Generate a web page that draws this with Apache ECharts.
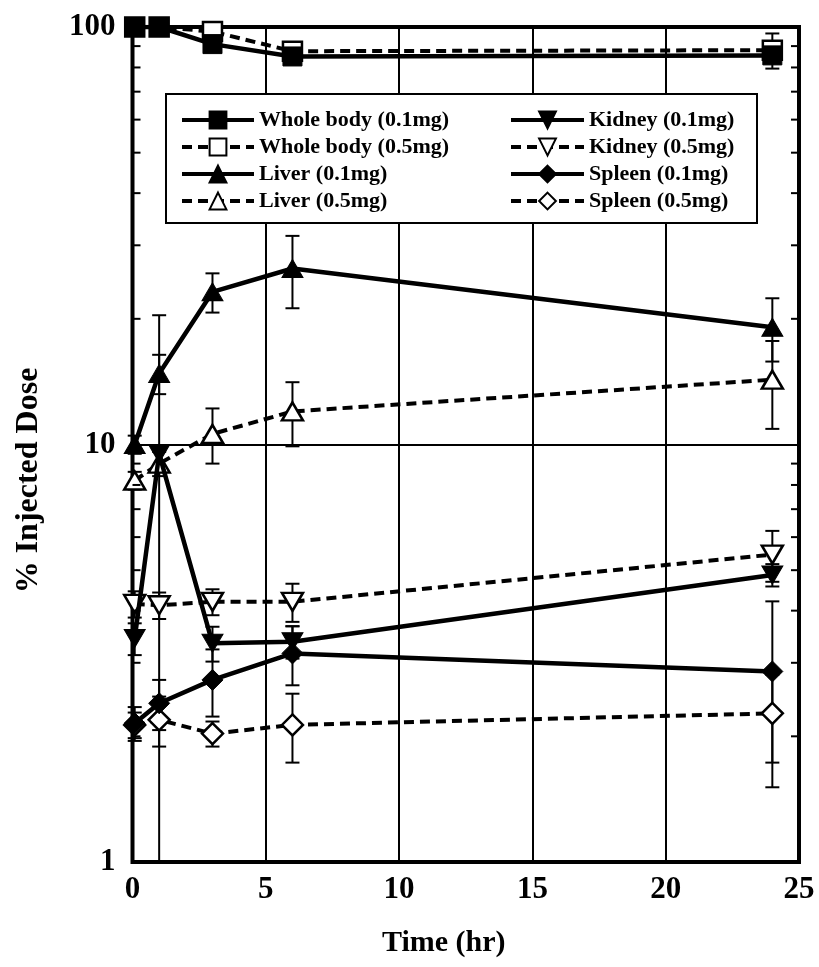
<!DOCTYPE html>
<html>
<head>
<meta charset="utf-8">
<script src="https://cdn.jsdelivr.net/npm/echarts@6/dist/echarts.min.js"></script>
<style>
  html, body { margin: 0; padding: 0; background: #fff; }
  #chart { width: 819px; height: 967px; }
</style>
</head>
<body>
<div id="chart"></div>
<script>
// Sampling times (hr)
const time = [0.083, 1, 3, 6, 24];

// % injected dose, mean values
const wholeBody01 = [100, 100, 91, 85, 85.5];
const wholeBody05 = [100, 100, 97.5, 87.5, 88];
const liver01 = [10, 14.8, 23.2, 26.4, 19.1];
const liver05 = [8.2, 9.0, 10.6, 12.0, 14.3];
const kidney01 = [3.43, 9.5, 3.34, 3.37, 4.87];
const kidney05 = [4.15, 4.12, 4.2, 4.2, 5.45];
const spleen01 = [2.15, 2.4, 2.73, 3.16, 2.86];
const spleen05 = [2.13, 2.19, 2.03, 2.13, 2.27];

// standard deviations
const wholeBody01Sd = [0, 0, 0, 0, 0];
const wholeBody05Sd = [0, 0, 0, 0, 8.5];
const liver01Sd = [0.5, 1.6, 2.5, 5.2, 3.3];
const liver05Sd = [0.4, 0.6, 1.6, 2.1, 3.4];
const kidney01Sd = [0.3, 10.9, 0.32, 0.3, 0.3];
const kidney05Sd = [0.3, 0.3, 0.3, 0.44, 0.76];
const spleen01Sd = [0.2, 0.33, 0.5, 0.51, 1.35];
const spleen05Sd = [0.15, 0.3, 0.14, 0.4, 0.54];

// axis ticks
const xTicks = [0, 5, 10, 15, 20, 25];
const yMajor = [1, 10, 100];
const yMinor = [2, 3, 4, 5, 6, 7, 8, 9, 20, 30, 40, 50, 60, 70, 80, 90];

const legendLeft = ['Whole body (0.1mg)', 'Whole body (0.5mg)', 'Liver (0.1mg)', 'Liver (0.5mg)'];
const legendRight = ['Kidney (0.1mg)', 'Kidney (0.5mg)', 'Spleen (0.1mg)', 'Spleen (0.5mg)'];

const FONT = '"Liberation Serif", "Times New Roman", serif';

const groups = [
  { name: 'Whole body (0.1mg)', mean: wholeBody01, sd: wholeBody01Sd, symbol: 'rect', fill: '#000', dashed: false, size: 19, rotate: 0 },
  { name: 'Whole body (0.5mg)', mean: wholeBody05, sd: wholeBody05Sd, symbol: 'rect', fill: '#fff', dashed: true, size: 19, rotate: 0 },
  { name: 'Liver (0.1mg)', mean: liver01, sd: liver01Sd, symbol: 'triangle', fill: '#000', dashed: false, size: [21, 18], rotate: 0 },
  { name: 'Liver (0.5mg)', mean: liver05, sd: liver05Sd, symbol: 'triangle', fill: '#fff', dashed: true, size: [21, 18], rotate: 0 },
  { name: 'Kidney (0.1mg)', mean: kidney01, sd: kidney01Sd, symbol: 'triangle', fill: '#000', dashed: false, size: [21, 18], rotate: 180 },
  { name: 'Kidney (0.5mg)', mean: kidney05, sd: kidney05Sd, symbol: 'triangle', fill: '#fff', dashed: true, size: [21, 18], rotate: 180 },
  { name: 'Spleen (0.1mg)', mean: spleen01, sd: spleen01Sd, symbol: 'diamond', fill: '#000', dashed: false, size: 21, rotate: 0 },
  { name: 'Spleen (0.5mg)', mean: spleen05, sd: spleen05Sd, symbol: 'diamond', fill: '#fff', dashed: true, size: 21, rotate: 0 }
];

// vertical error bar with caps; a lower bound at or below the axis minimum runs to the axis floor
function errorBarItem(params, api) {
  const t = api.value(0), m = api.value(1), sd = api.value(2);
  if (!(sd > 0)) return null;
  const cs = params.coordSys;
  const floor = cs.y + cs.height;
  const hi = api.coord([t, m + sd]);
  const hasLow = (m - sd) > 1;
  const lo = hasLow ? api.coord([t, m - sd]) : [hi[0], floor];
  const cap = 7;
  const st = { stroke: '#000', lineWidth: 2 };
  const children = [
    { type: 'line', shape: { x1: hi[0], y1: hi[1], x2: lo[0], y2: lo[1] }, style: st },
    { type: 'line', shape: { x1: hi[0] - cap, y1: hi[1], x2: hi[0] + cap, y2: hi[1] }, style: st }
  ];
  if (hasLow) {
    children.push({ type: 'line', shape: { x1: lo[0] - cap, y1: lo[1], x2: lo[0] + cap, y2: lo[1] }, style: st });
  }
  return { type: 'group', children: children };
}

// inward minor ticks on the left and right frame edges
function minorTickItem(params, api) {
  const cs = params.coordSys;
  const p = api.coord([0, api.value(1)]);
  const len = 8;
  const st = { stroke: '#000', lineWidth: 2 };
  return {
    type: 'group',
    children: [
      { type: 'line', shape: { x1: cs.x, y1: p[1], x2: cs.x + len, y2: p[1] }, style: st },
      { type: 'line', shape: { x1: cs.x + cs.width, y1: p[1], x2: cs.x + cs.width - len, y2: p[1] }, style: st }
    ]
  };
}

const series = [];

series.push({
  type: 'custom',
  name: 'minorTicks',
  silent: true,
  z: 3,
  renderItem: minorTickItem,
  encode: { x: 0, y: 1 },
  data: yMinor.map(v => [0, v])
});

groups.forEach(g => {
  series.push({
    type: 'custom',
    name: g.name + ' SD',
    silent: true,
    z: 1,
    renderItem: errorBarItem,
    encode: { x: 0, y: 1 },
    data: time.map((t, i) => [t, g.mean[i], g.sd[i]])
  });
});

groups.forEach(g => {
  series.push({
    type: 'line',
    name: g.name,
    z: g.dashed ? 2 : 3,
    data: time.map((t, i) => [t, g.mean[i]]),
    symbol: g.symbol,
    symbolSize: g.size,
    symbolRotate: g.rotate,
    showAllSymbol: true,
    lineStyle: g.dashed
      ? { color: '#000', width: 4, type: [10, 6] }
      : { color: '#000', width: 4.5, type: 'solid' },
    itemStyle: { color: g.fill, borderColor: '#000', borderWidth: g.fill === '#fff' ? 2.5 : 1 },
    emphasis: { disabled: true },
    animation: false
  });
});

const legendText = { fontFamily: FONT, fontWeight: 'bold', fontSize: 22, color: '#000', lineHeight: 22 };

function legendBlock(names, left, width) {
  return {
    data: names,
    orient: 'vertical',
    left: left, top: 109,
    padding: 0,
    itemGap: 5,
    itemWidth: width, itemHeight: 21,
    selectedMode: false,
    lineStyle: { width: 4 },
    textStyle: legendText
  };
}

const option = {
  animation: false,
  backgroundColor: '#fff',
  grid: {
    left: 132.5, right: 20, top: 27, bottom: 105,
    show: true, borderColor: '#000', borderWidth: 4, backgroundColor: 'transparent'
  },
  xAxis: {
    type: 'value',
    min: xTicks[0],
    max: xTicks[xTicks.length - 1],
    interval: 5,
    name: 'Time (hr)',
    nameLocation: 'middle',
    nameGap: 66,
    nameTextStyle: { fontFamily: FONT, fontWeight: 'bold', fontSize: 30, color: '#000', padding: [0, 44, 0, 0] },
    axisLine: { show: false },
    axisTick: { show: false },
    axisLabel: { fontFamily: FONT, fontWeight: 'bold', fontSize: 31, color: '#000', margin: 12 },
    splitLine: { show: true, lineStyle: { color: '#000', width: 2 } }
  },
  yAxis: {
    type: 'log',
    logBase: 10,
    min: yMajor[0],
    max: yMajor[yMajor.length - 1],
    name: '% Injected Dose',
    nameLocation: 'middle',
    nameGap: 88,
    nameTextStyle: { fontFamily: FONT, fontWeight: 'bold', fontSize: 32, color: '#000', padding: [0, 72, 0, 0] },
    axisLine: { show: false },
    axisTick: { show: false },
    axisLabel: { fontFamily: FONT, fontWeight: 'bold', fontSize: 31, color: '#000', margin: 17 },
    splitLine: { show: true, lineStyle: { color: '#000', width: 2 } },
    minorTick: { show: false }
  },
  graphic: [
    {
      type: 'rect',
      left: 165, top: 93, z: 3,
      shape: { x: 0, y: 0, width: 591, height: 129 },
      style: { fill: '#fff', stroke: '#000', lineWidth: 2 }
    }
  ],
  legend: [
    legendBlock(legendLeft, 180, 72),
    legendBlock(legendRight, 509, 73)
  ],
  series: series
};

const chart = echarts.init(document.getElementById('chart'), null, { renderer: 'canvas' });
chart.setOption(option);
</script>
</body>
</html>
